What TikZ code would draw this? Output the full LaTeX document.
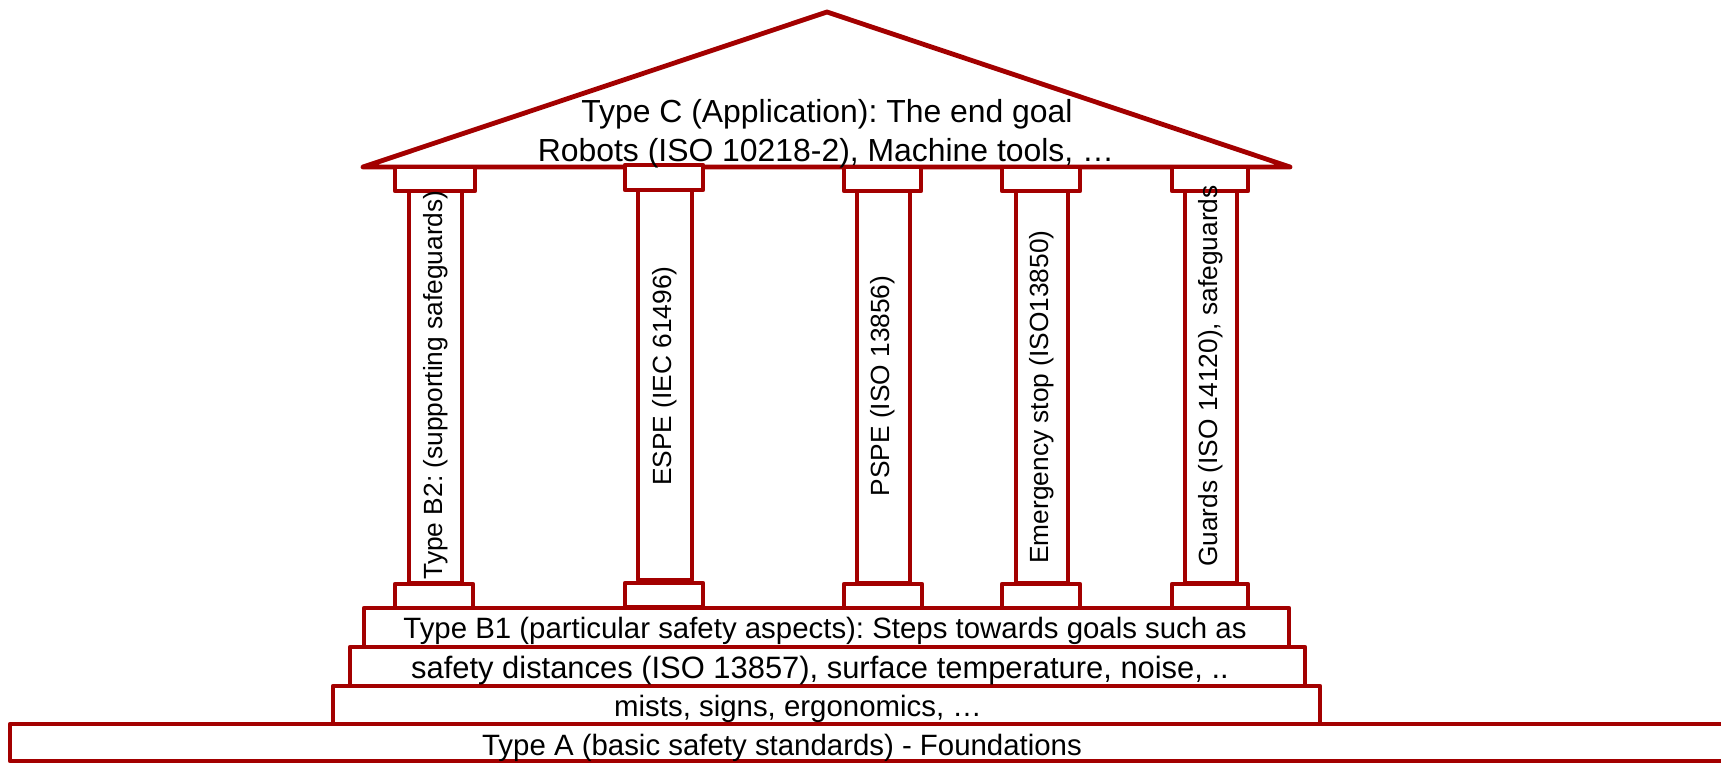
\documentclass[tikz,border=0pt]{standalone}
\usepackage{fontspec}
\setmainfont{Liberation Sans}
\definecolor{pred}{RGB}{163,0,0}
\begin{document}
\frenchspacing
\begin{tikzpicture}[x=1pt,y=-1pt,
  part/.style={draw=pred,line width=4.8pt,line join=round,fill=white},
  roottext/.style={inner sep=0pt,anchor=base,font=\fontsize{31.9}{36}\selectfont},
  steptext/.style={inner sep=0pt,anchor=base,font=\fontsize{29.4}{34}\selectfont},
  coltext/.style={inner sep=0pt,rotate=90,anchor=center,font=\fontsize{26.3}{30}\selectfont}]
\useasboundingbox (0,0) rectangle (1721,763);
\clip (0,0) rectangle (1721,763);
% roof
\draw[part] (363,167) coordinate (rl) -- (827,12) coordinate (apex) -- (1290,167) coordinate (rr) -- cycle;
% capitals
\draw[part] (395,167) rectangle (475,191);
\draw[part] (625,165) rectangle (703,190);
\draw[part] (844,167) rectangle (921,191);
\draw[part] (1002,167) rectangle (1080,191);
\draw[part] (1172,167) rectangle (1248,191);
% shafts
\draw[part] (409,191) rectangle (462,583);
\draw[part] (638,190) rectangle (692,580);
\draw[part] (857,191) rectangle (910,583);
\draw[part] (1016,191) rectangle (1068,583);
\draw[part] (1185,191) rectangle (1237,583);
% steps
\draw[part] (10,724) rectangle (1760,761);
\draw[part] (333,686) rectangle (1320,724);
\draw[part] (350,647) rectangle (1305,686);
\draw[part] (364,608) rectangle (1289,647);
% bases
\draw[part] (395,584) rectangle (473,608);
\draw[part] (625,583) rectangle (703,607);
\draw[part] (844,584) rectangle (922,608);
\draw[part] (1002,584) rectangle (1080,608);
\draw[part] (1172,584) rectangle (1248,608);
% roof texts
\node[roottext] (tc) at (827,122) {Type C (Application): The end goal};
\node[roottext] (rob) at (826,161) {Robots (ISO 10218-2), Machine tools, …};
% column texts
\node[coltext] (c1) at (436,385) {Type B2: (supporting safeguards)};
\node[coltext] (c2) at (665,376) {ESPE (IEC 61496)};
\node[coltext] (c3) at (883,386) {PSPE (ISO 13856)};
\node[coltext] (c4) at (1042,397) {Emergency stop (ISO13850)};
\node[coltext] (c5) at (1211,376) {Guards (ISO 14120), safeguards};
% step texts
\node[steptext] (b1) at (825,638) {Type B1 (particular safety aspects): Steps towards goals such as};
\node[steptext,font=\fontsize{30.9}{35}\selectfont] (s2) at (820,678) {safety distances (ISO 13857), surface temperature, noise, ..};
\node[steptext] (s3) at (798,716) {mists, signs, ergonomics, …};
\node[steptext] (ta) at (782,755) {Type A (basic safety standards) - Foundations};
\end{tikzpicture}
\end{document}
